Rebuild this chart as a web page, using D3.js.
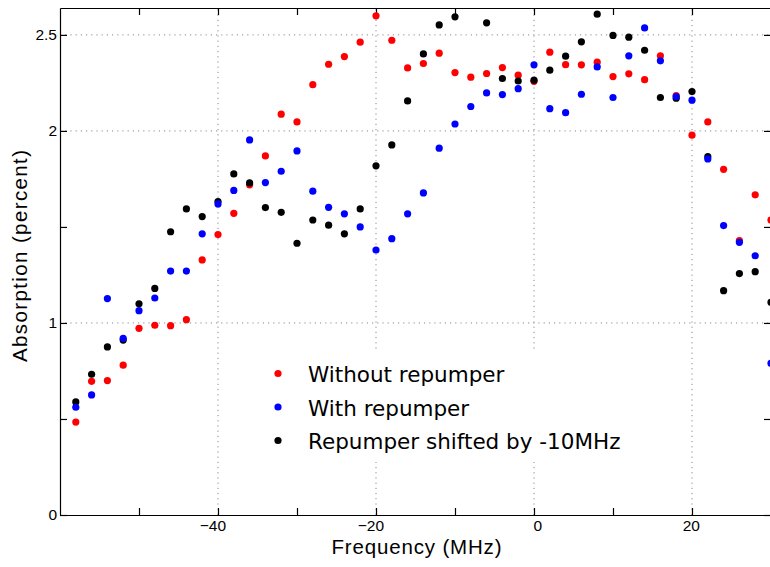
<!DOCTYPE html>
<html>
<head>
<meta charset="utf-8">
<script src="https://cdn.jsdelivr.net/npm/d3@7"></script>
<style>
  body { margin: 0; background: #fff; }
</style>
</head>
<body>
<div id="chart"></div>
<script>
// Frequency detuning (MHz)
var freq = [-58, -56, -54, -52, -50, -48, -46, -44, -42, -40, -38, -36, -34, -32, -30,
  -28, -26, -24, -22, -20, -18, -16, -14, -12, -10, -8, -6, -4, -2, 0,
  2, 4, 6, 8, 10, 12, 14, 16, 18, 20, 22, 24, 26, 28, 30];

// Absorption (percent)
var withoutRepumper = [0.484, 0.696, 0.70, 0.78, 0.972, 0.988, 0.986, 1.017, 1.328, 1.46, 1.571, 1.719, 1.87, 2.087, 2.047,
  2.241, 2.347, 2.387, 2.462, 2.599, 2.472, 2.328, 2.351, 2.405, 2.304, 2.28, 2.299, 2.33, 2.29, 2.258,
  2.41, 2.345, 2.344, 2.358, 2.283, 2.297, 2.267, 2.391, 2.184, 1.978, 2.047, 1.80, 1.429, 1.667, 1.536];
var withRepumper = [0.561, 0.625, 1.127, 0.92, 1.064, 1.13, 1.27, 1.27, 1.464, 1.62, 1.69, 1.953, 1.731, 1.79, 1.896,
  1.686, 1.602, 1.568, 1.5, 1.38, 1.439, 1.568, 1.677, 1.91, 2.036, 2.127, 2.198, 2.189, 2.22, 2.344,
  2.116, 2.095, 2.191, 2.333, 2.174, 2.391, 2.536, 2.365, 2.179, 2.16, 1.854, 1.507, 1.42, 1.35, 0.79];
var repumperShifted = [0.589, 0.733, 0.875, 0.911, 1.10, 1.18, 1.475, 1.594, 1.554, 1.632, 1.776, 1.729, 1.601, 1.576, 1.415,
  1.536, 1.509, 1.464, 1.594, 1.818, 1.927, 2.156, 2.401, 2.552, 2.594, 2.68, 2.563, 2.273, 2.26, 2.264,
  2.316, 2.389, 2.464, 2.608, 2.497, 2.488, 2.42, 2.174, 2.17, 2.205, 1.866, 1.168, 1.257, 1.267, 1.108];

var xTicks = [-50, -40, -30, -20, -10, 0, 10, 20, 30];
var xLabels = [-40, -20, 0, 20];
var yTicks = [0, 0.5, 1, 1.5, 2, 2.5];
var yLabels = [0, 1, 2, 2.5];

var seriesNames = ["Without repumper", "With repumper", "Repumper shifted by -10MHz"];
var seriesColors = ["#ff0000", "#0000ff", "#000000"];

//Plot dimensions
var width = 770;
var height = 567;
var plotLeft = 60, plotRight = 771, plotTop = 8, plotBottom = 515;
var tickFont = '"Liberation Sans", Arial, sans-serif';

var x = d3.scaleLinear().domain([-60, 30]).range([plotLeft, plotRight]);
var y = d3.scaleLinear().domain([0, 2.64]).range([plotBottom, plotTop]);

var svg = d3.select('#chart')
  .append('svg')
  .attr('width', width)
  .attr('height', height);

svg.append('defs').append('clipPath')
  .attr('id', 'plotClip')
  .append('rect')
  .attr('x', plotLeft - 10).attr('y', plotTop)
  .attr('width', plotRight - plotLeft + 20).attr('height', plotBottom - plotTop);

// Dotted grid on labelled ticks only
var grid = svg.append('g').attr('class', 'grid');
grid.selectAll('line.vx')
  .data(xLabels)
  .enter().append('line')
  .attr('class', 'vx')
  .attr('x1', function(d) { return x(d); })
  .attr('x2', function(d) { return x(d); })
  .attr('y1', plotBottom).attr('y2', plotTop);
grid.selectAll('line.hy')
  .data(yLabels.filter(function(d) { return d > 0; }))
  .enter().append('line')
  .attr('class', 'hy')
  .attr('x1', plotLeft).attr('x2', plotRight)
  .attr('y1', function(d) { return y(d); })
  .attr('y2', function(d) { return y(d); });
grid.selectAll('line')
  .attr('stroke', '#8a8a8a')
  .attr('stroke-width', 1)
  .attr('stroke-dasharray', '1.2,4');

// Legend box sits over the grid
svg.append('rect')
  .attr('x', 262).attr('y', 351)
  .attr('width', 378).attr('height', 111)
  .attr('fill', '#fff');

// Axes, ticks pointing inward
function fmtX(d) { return xLabels.indexOf(d) >= 0 ? d3.format("d")(d) : ""; }
function fmtY(d) { return yLabels.indexOf(d) >= 0 ? String(d) : ""; }

var gx = svg.append('g')
  .attr('transform', 'translate(0,' + plotBottom + ')')
  .call(d3.axisBottom(x).tickValues(xTicks).tickSize(-7).tickSizeOuter(0).tickFormat(fmtX));
gx.selectAll('.tick text')
  .attr('text-anchor', 'end')
  .attr('x', 7.5)
  .attr('y', 16)
  .attr('dy', 0);

svg.append('g')
  .attr('transform', 'translate(0,' + plotTop + ')')
  .call(d3.axisTop(x).tickValues(xTicks).tickSize(-7).tickSizeOuter(0).tickFormat(""));

var gy = svg.append('g')
  .attr('transform', 'translate(' + plotLeft + ',0)')
  .call(d3.axisLeft(y).tickValues(yTicks).tickSize(-7).tickSizeOuter(0).tickFormat(fmtY));
gy.selectAll('.tick text')
  .attr('x', -3);

svg.append('g')
  .attr('transform', 'translate(' + plotRight + ',0)')
  .call(d3.axisRight(y).tickValues(yTicks).tickSize(-7).tickSizeOuter(0).tickFormat(""));

svg.selectAll('.tick text')
  .attr('fill', '#000')
  .style('font-family', tickFont)
  .style('font-size', '15.5px');
svg.selectAll('.domain').attr('stroke', '#000').attr('stroke-width', 1.2);
svg.selectAll('.tick line').attr('stroke', '#000').attr('stroke-width', 1.2);

// Points: red, then black, then blue on top
var plotOrder = [
  { values: withoutRepumper, color: seriesColors[0] },
  { values: repumperShifted, color: seriesColors[2] },
  { values: withRepumper, color: seriesColors[1] }
];

var dots = svg.append('g').attr('clip-path', 'url(#plotClip)');
plotOrder.forEach(function(s) {
  dots.append('g')
    .selectAll('circle')
    .data(s.values)
    .enter()
    .append('circle')
    .attr('cx', function(d, i) { return x(freq[i]); })
    .attr('cy', function(d) { return y(d); })
    .attr('r', 3.6)
    .attr('fill', s.color);
});

// Legend
var legend = svg.append('g')
  .selectAll('g')
  .data(seriesNames)
  .enter()
  .append('g')
  .attr('transform', function(d, i) { return 'translate(278,' + (373.5 + i * 33.5) + ')'; });
legend.append('circle')
  .attr('r', 3.6)
  .attr('fill', function(d, i) { return seriesColors[i]; });
legend.append('text')
  .attr('x', 30)
  .attr('y', 8.5)
  .style('font-family', '"DejaVu Sans", sans-serif')
  .style('font-size', '21.5px')
  .text(function(d) { return d; });

// Axis titles
svg.append('text')
  .attr('x', 416.5)
  .attr('y', 554)
  .attr('text-anchor', 'middle')
  .attr('textLength', 170)
  .style('font-family', tickFont)
  .style('font-size', '20.5px')
  .text('Frequency (MHz)');

svg.append('text')
  .attr('transform', 'translate(27,256) rotate(-90)')
  .attr('text-anchor', 'middle')
  .attr('textLength', 212)
  .style('font-family', tickFont)
  .style('font-size', '20.5px')
  .text('Absorption (percent)');
</script>
</body>
</html>
